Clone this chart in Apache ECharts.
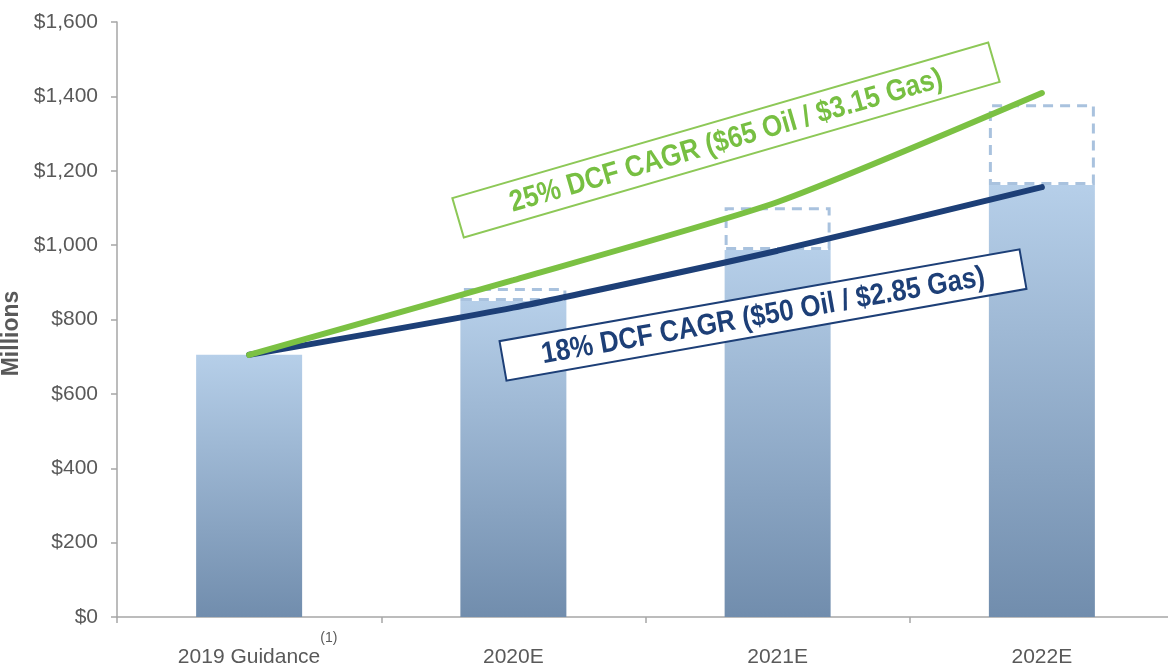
<!DOCTYPE html>
<html>
<head>
<meta charset="utf-8">
<script src="https://cdn.jsdelivr.net/npm/echarts@6/dist/echarts.min.js"></script>
<style>
html,body{margin:0;padding:0;background:#fff;}
#main{width:1168px;height:670px;}
</style>
</head>
<body>
<div id="main"></div>
<script>
var categories = ['2019 Guidance', '2020E', '2021E', '2022E'];
var baseCase = [705, 850, 987, 1162];     // solid bars
var upsideCase = [705, 885, 1102, 1379];  // top of dashed boxes
var lineLow = [705, 832, 985, 1156];
var lineHigh = [705, 906, 1116, 1409];
var noteHigh = '25% DCF CAGR ($65 Oil / $3.15 Gas)';
var noteLow = '18% DCF CAGR ($50 Oil / $2.85 Gas)';
var footnote = '(1)';

var upsideExtra = [];
for (var i = 0; i < baseCase.length; i++) {
	var d = upsideCase[i] - baseCase[i];
	upsideExtra.push(d > 0 ? d : '-');
}

var chart = echarts.init(document.getElementById('main'));
var deg = Math.PI / 180;
var labelFont = '"Liberation Sans", Arial';

var option = {
	backgroundColor: '#fff',
	animation: false,
	grid: { left: 117, right: -6, top: 22, bottom: 53, outerBoundsMode: 'none', containLabel: false },
	xAxis: {
		type: 'category',
		data: categories,
		axisLine: { lineStyle: { color: '#a6a6a6', width: 1.5 } },
		axisTick: { show: true, length: 6, lineStyle: { color: '#a6a6a6', width: 1.5 } },
		axisLabel: {
			interval: 0,
			margin: 27,
			color: '#595959',
			fontSize: 21,
			fontFamily: labelFont,
			formatter: function (v, i) {
				if (i === 0) return '{pad|}{m|' + v + '}{sup|' + footnote + '}';
				return '{sp| }{m|' + v + '}{sp| }';
			},
			rich: {
				m: { fontSize: 21, lineHeight: 24, verticalAlign: 'bottom', color: '#595959', fontFamily: labelFont },
				sup: { fontSize: 14, lineHeight: 16, padding: [0, 0, 23, 0], verticalAlign: 'bottom', color: '#595959', fontFamily: labelFont },
				sp: { fontSize: 14, lineHeight: 16, padding: [0, 0, 23, 0], verticalAlign: 'bottom' },
				pad: { width: 17, fontSize: 14, lineHeight: 16, verticalAlign: 'bottom' }
			}
		}
	},
	yAxis: {
		type: 'value',
		min: 0,
		max: 1600,
		interval: 200,
		name: 'Millions',
		nameLocation: 'middle',
		nameGap: 86,
		nameTextStyle: {
			fontSize: 23,
			fontWeight: 'bold',
			color: '#595959',
			fontFamily: labelFont,
			padding: [0, 28, 0, 0]
		},
		axisLine: { show: true, lineStyle: { color: '#a6a6a6', width: 1.5 } },
		axisTick: { show: true, length: 6, lineStyle: { color: '#a6a6a6', width: 1.5 } },
		splitLine: { show: false },
		axisLabel: {
			margin: 19,
			color: '#595959',
			fontSize: 21,
			fontFamily: labelFont,
			formatter: function (v) {
				return '$' + v.toLocaleString('en-US');
			}
		}
	},
	series: [{
		name: 'base',
		type: 'bar',
		stack: 'dcf',
		barWidth: 106,
		data: baseCase,
		itemStyle: {
			color: new echarts.graphic.LinearGradient(0, 0, 0, 1, [
				{ offset: 0, color: '#b6cfe9' },
				{ offset: 1, color: '#718dad' }
			])
		}
	}, {
		name: 'upside',
		type: 'bar',
		stack: 'dcf',
		barWidth: 106,
		data: upsideExtra,
		itemStyle: {
			color: 'rgba(255,255,255,0)',
			borderColor: '#a9c2de',
			borderWidth: 3,
			borderType: [10, 7]
		}
	}, {
		name: 'low',
		type: 'line',
		data: lineLow,
		smooth: 0.2,
		symbol: 'none',
		z: 3,
		lineStyle: { color: '#1d3f77', width: 6, cap: 'round' }
	}, {
		name: 'high',
		type: 'line',
		data: lineHigh,
		smooth: 0.2,
		symbol: 'none',
		z: 4,
		lineStyle: { color: '#7bc143', width: 6, cap: 'round' }
	}],
	graphic: [{
		type: 'group',
		x: 726,
		y: 140,
		rotation: 16.2 * deg,
		z: 100,
		children: [{
			type: 'rect',
			z: 100,
			shape: { x: -279, y: -20.5, width: 558, height: 41 },
			style: { fill: '#fff', stroke: '#8dc857', lineWidth: 2 }
		}, {
			type: 'text',
			z: 101,
			scaleY: 1.15,
			style: {
				text: noteHigh, x: 0, y: 1,
				align: 'center', verticalAlign: 'middle',
				textAlign: 'center', textVerticalAlign: 'middle',
				font: 'bold 26px "Liberation Sans", Arial',
				fill: '#77bf42'
			}
		}]
	}, {
		type: 'group',
		x: 763,
		y: 315,
		rotation: 10 * deg,
		z: 100,
		children: [{
			type: 'rect',
			z: 100,
			shape: { x: -264, y: -20, width: 528, height: 40 },
			style: { fill: '#fff', stroke: '#1d3f77', lineWidth: 2 }
		}, {
			type: 'text',
			z: 101,
			scaleY: 1.15,
			style: {
				text: noteLow, x: 0, y: 1,
				align: 'center', verticalAlign: 'middle',
				textAlign: 'center', textVerticalAlign: 'middle',
				font: 'bold 26px "Liberation Sans", Arial',
				fill: '#1d3f77'
			}
		}]
	}]
};

chart.setOption(option);
</script>
</body>
</html>
